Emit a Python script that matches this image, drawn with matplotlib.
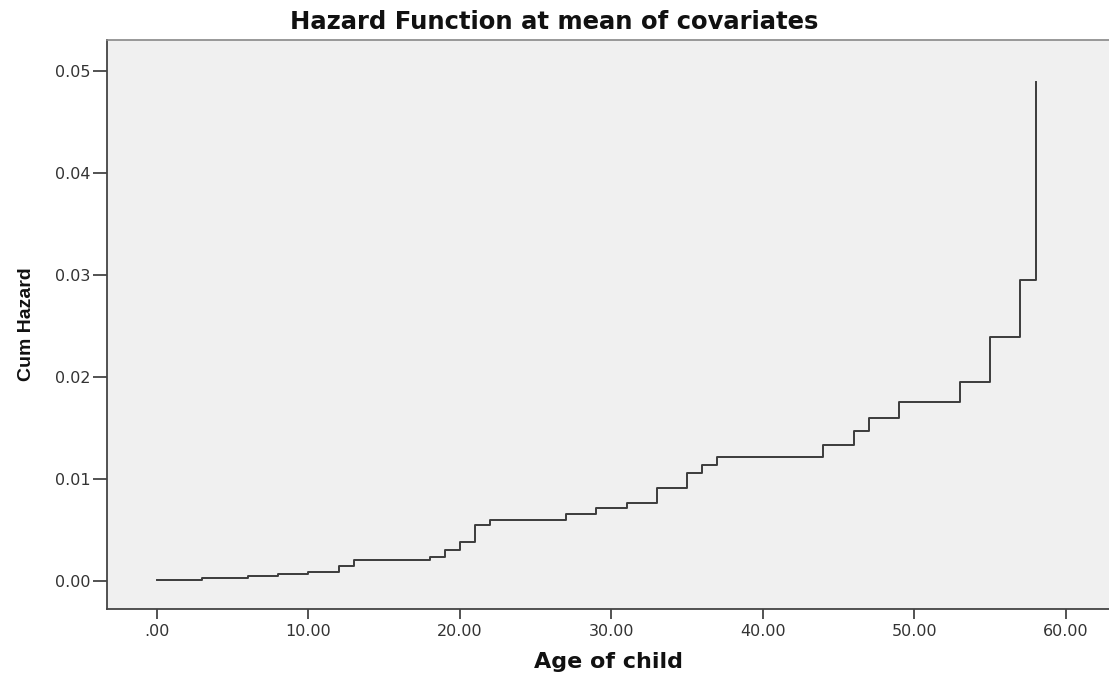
import matplotlib
matplotlib.use("Agg")
import matplotlib.pyplot as plt
from matplotlib import font_manager
from matplotlib.ticker import FuncFormatter

# Cumulative hazard (SPSS Cox regression, mean of covariates)
age = [0, 3, 6, 8, 10, 12, 13, 18, 19, 20, 21, 22, 27, 29, 31, 33, 35, 36, 37,
       44, 46, 47, 49, 53, 55, 57, 58]
cum_hazard = [0.0001, 0.00032, 0.00049, 0.00066, 0.00085, 0.0015, 0.00203,
              0.00232, 0.00304, 0.00382, 0.00549, 0.00601, 0.00657, 0.00712,
              0.00768, 0.00912, 0.01056, 0.01137, 0.01219, 0.01333, 0.0147,
              0.0160, 0.01758, 0.01948, 0.0239, 0.0295, 0.0489]
x_ticks = [0, 10, 20, 30, 40, 50, 60]
y_ticks = [0.00, 0.01, 0.02, 0.03, 0.04, 0.05]

# narrow bold face for the y label, if there is one
names = {f.name for f in font_manager.fontManager.ttflist}
if 'Liberation Sans Narrow' in names:
    ylab_font, ylab_size = 'Liberation Sans Narrow', 16
else:
    ylab_font, ylab_size = 'Liberation Sans', 14

fig = plt.figure(figsize=(11.09, 6.73), dpi=100)
ax = fig.add_axes([0.0965, 0.0951, 0.9035, 0.8455])
ax.set_facecolor('#f0f0f0')

ax.plot(age, cum_hazard, drawstyle='steps-post', color='#3c3c3c', linewidth=1.4)

ax.set_xlim(-3.3, 62.85)
ax.set_ylim(-0.00275, 0.05304)
ax.set_xticks(x_ticks)
ax.set_yticks(y_ticks)

# SPSS style: ".00" for zero on x axis
ax.xaxis.set_major_formatter(FuncFormatter(lambda v, p: ("%.2f" % v).lstrip('0') if v == 0 else "%.2f" % v))
ax.yaxis.set_major_formatter(FuncFormatter(lambda v, p: "%.2f" % v))

ax.tick_params(axis='x', length=7, width=1.3, color='#444444', pad=4,
               labelsize=11.5, labelcolor='#333333')
ax.tick_params(axis='y', length=10, width=1.3, color='#444444', pad=2,
               labelsize=11.5, labelcolor='#333333')

for side in ['left', 'bottom']:
    ax.spines[side].set_color('#444444')
    ax.spines[side].set_linewidth(1.3)
ax.spines['top'].set_color('#888888')
ax.spines['top'].set_linewidth(1.2)
ax.spines['right'].set_visible(False)

# title is centred on the whole figure, not on the axes
fig.text(0.5, 0.968, "Hazard Function at mean of covariates", fontsize=17.5,
         fontweight='bold', color='#111111', ha='center', va='center')
ax.set_xlabel("Age of child", fontsize=16, fontweight='bold',
              color='#111111', labelpad=9)
ax.set_ylabel("Cum Hazard", fontsize=ylab_size, fontweight='bold', color='#111111',
              family=ylab_font, labelpad=14)

fig.savefig("out.png", dpi=100, facecolor='white')
